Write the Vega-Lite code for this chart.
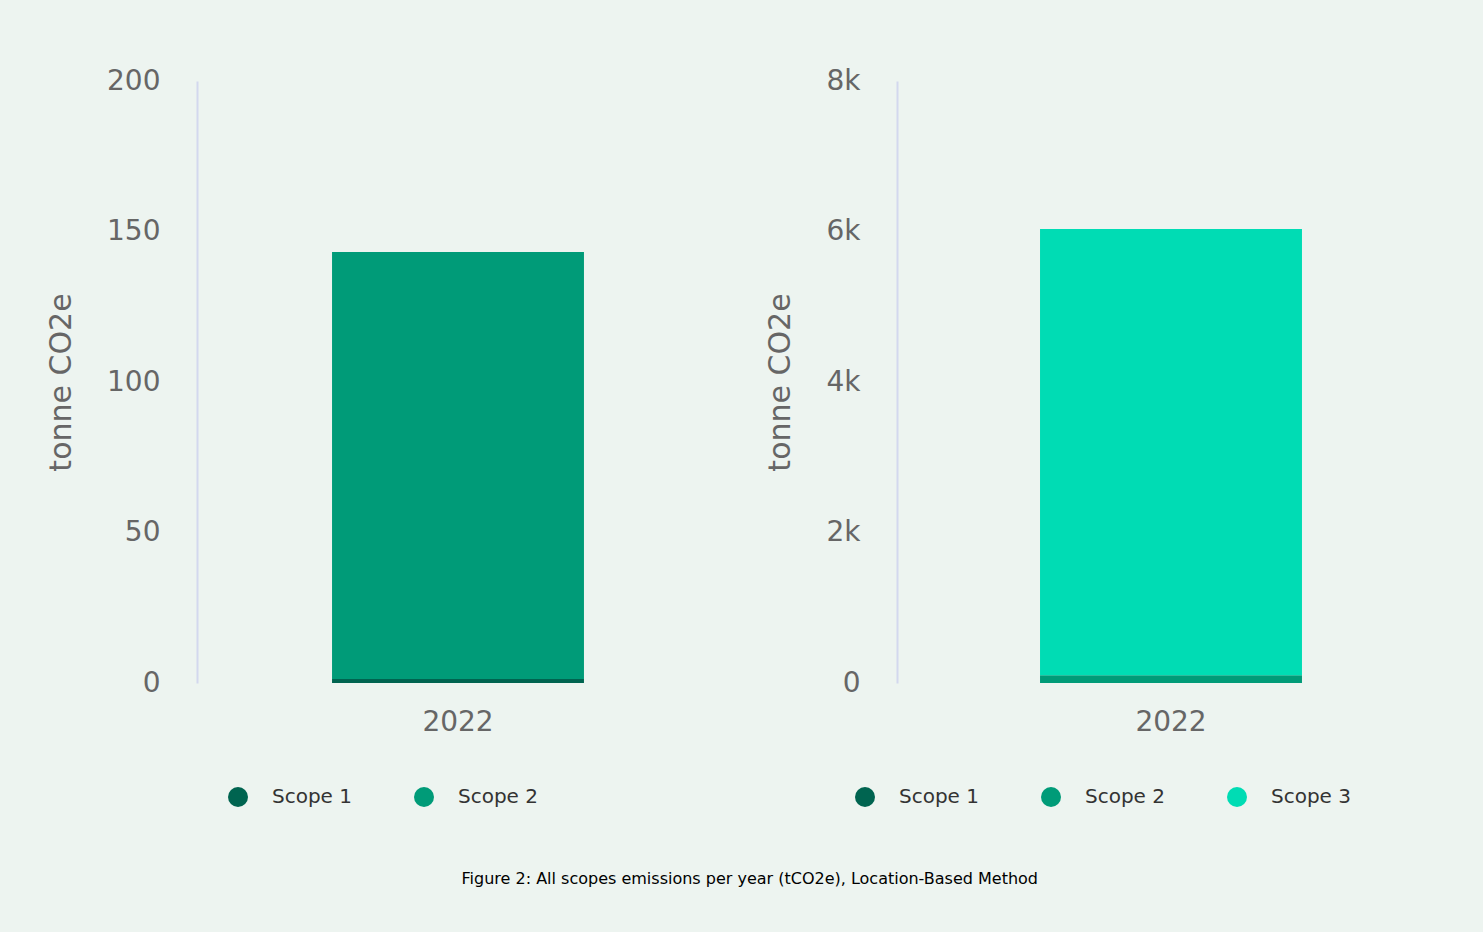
{
  "$schema": "https://vega.github.io/schema/vega-lite/v6.json",
  "background": "#EDF4F0",
  "padding": {"left": 46, "top": 67, "right": 44, "bottom": 48},
  "datasets": {
    "scopes12": [
      {"year": "2022", "scope": "Scope 1", "value": 1.3},
      {"year": "2022", "scope": "Scope 2", "value": 141.9}
    ],
    "scopesAll": [
      {"year": "2022", "scope": "Scope 1", "value": 1.3},
      {"year": "2022", "scope": "Scope 2", "value": 102},
      {"year": "2022", "scope": "Scope 3", "value": 5930}
    ]
  },
  "title": {
    "text": "Figure 2: All scopes emissions per year (tCO2e), Location-Based Method",
    "orient": "bottom",
    "anchor": "middle",
    "font": "DejaVu Sans",
    "fontSize": 16,
    "fontWeight": "normal",
    "color": "#000000",
    "offset": 64,
    "dx": 4
  },
  "spacing": 46,
  "resolve": {"scale": {"color": "independent", "y": "independent"}},
  "hconcat": [
    {
      "width": 522,
      "height": 602,
      "data": {"name": "scopes12"},
      "mark": {"type": "bar"},
      "encoding": {
        "x": {"field": "year", "type": "nominal", "title": null,
              "scale": {"paddingInner": 0, "paddingOuter": 0.536}},
        "y": {"field": "value", "type": "quantitative", "stack": "zero",
              "title": "tonne CO2e",
              "scale": {"domain": [0, 200], "nice": false},
              "axis": {"values": [0, 50, 100, 150, 200]}},
        "color": {"field": "scope", "type": "nominal",
                  "scale": {"domain": ["Scope 1", "Scope 2"], "range": ["#006450", "#009B78"]},
                  "legend": {"orient": "none", "legendX": 31, "legendY": 706, "direction": "horizontal", "title": null}},
        "order": {"field": "scope", "sort": "ascending"}
      }
    },
    {
      "width": 548,
      "height": 602,
      "data": {"name": "scopesAll"},
      "mark": {"type": "bar"},
      "encoding": {
        "x": {"field": "year", "type": "nominal", "title": null,
              "scale": {"paddingInner": 0, "paddingOuter": 0.546}},
        "y": {"field": "value", "type": "quantitative", "stack": "zero",
              "title": "tonne CO2e",
              "scale": {"domain": [0, 8000], "nice": false},
              "axis": {"values": [0, 2000, 4000, 6000, 8000],
                       "labelExpr": "datum.value == 0 ? '0' : format(datum.value / 1000, '~g') + 'k'"}},
        "color": {"field": "scope", "type": "nominal",
                  "scale": {"domain": ["Scope 1", "Scope 2", "Scope 3"], "range": ["#006450", "#009B78", "#00DCB4"]},
                  "legend": {"orient": "none", "legendX": -42, "legendY": 706, "direction": "horizontal", "title": null}},
        "order": {"field": "scope", "sort": "ascending"}
      }
    }
  ],
  "config": {
    "font": "DejaVu Sans",
    "view": {"stroke": null},
    "axisY": {
      "domainColor": "#D3D8EE",
      "domainWidth": 2,
      "ticks": false,
      "grid": false,
      "labelColor": "#666666",
      "labelFontSize": 28,
      "labelPadding": 37,
      "titleColor": "#666666",
      "titleFontSize": 30,
      "titleFontWeight": "normal",
      "titlePadding": 30
    },
    "axisX": {
      "domain": false,
      "ticks": false,
      "grid": false,
      "labelAngle": 0,
      "labelColor": "#666666",
      "labelFontSize": 28,
      "labelPadding": 25
    },
    "legend": {
      "symbolType": "circle",
      "symbolSize": 400,
      "symbolStrokeWidth": 0,
      "labelFontSize": 20,
      "labelColor": "#333333",
      "labelOffset": 24,
      "columnPadding": 61
    }
  }
}
